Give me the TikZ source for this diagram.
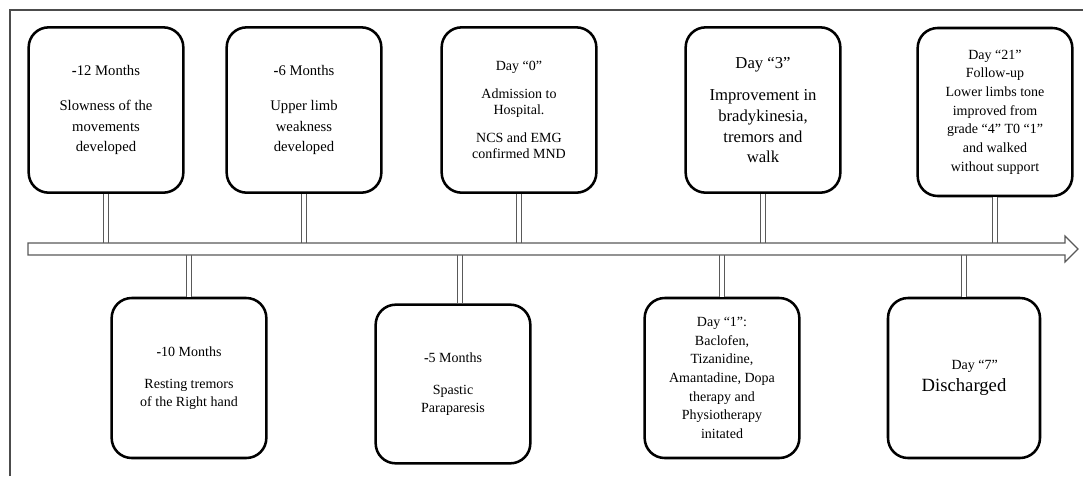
\documentclass[tikz,border=0pt]{standalone}
\usepackage{fontspec}
\setmainfont{Liberation Serif}
\usetikzlibrary{calc}

\begin{document}
\begin{tikzpicture}[x=0.75pt, y=-0.75pt,
	            event/.style={
	            draw,
	            line width=1.9pt,
	            rounded corners=15pt,
	            align=center,
	            inner sep=0pt,
	            minimum width=116pt,
	            minimum height=124pt,
	            font=\fontsize{11}{15.4}\selectfont
	            },
	            small/.style={font=\fontsize{10.5}{13.5}\selectfont},
	            stem/.style={
	            draw=black!65,
	            line width=0.9pt,
	            double=white,
	            double distance=3.4pt
	            },
	            axis/.style={
	            draw=black!65,
	            line width=0.9pt,
	            fill=white
	            }]

	        \useasboundingbox (0,0) rectangle (1083,476);
	        \draw[black!70, line width=0.9pt] (10,476) -- (10,10) -- (1083,10);

	        \coordinate (up) at (0,243);
	        \coordinate (dn) at (0,255);

	        \node[event] (m12) at (106,110) {\textbf{-}12 Months\\[11pt]Slowness of the\\movements\\developed};
	        \node[event] (m6) at (304,110) {\textbf{-}6 Months\\[11pt]Upper limb\\weakness\\developed};
	        \node[event, font=\fontsize{10.5}{12}\selectfont] (d0) at (519,110) {Day “0”\\[9pt]Admission to\\Hospital.\\[9pt]NCS and EMG\\confirmed MND};
	        \node[event, font=\fontsize{12.5}{15.5}\selectfont] (d3) at (763,110) {Day “3”\\[9pt]Improvement in\\bradykinesia,\\tremors and\\walk};
	        \node[event, minimum height=126pt, font=\fontsize{10.5}{14}\selectfont] (d21) at (995,112) {Day “21”\\Follow-up\\Lower limbs tone\\improved from\\grade “4” T0 “1”\\and walked\\without support};

	        \node[event, small, minimum height=120pt] (m10) at (189,378) {\textbf{-}10 Months\\[11pt]Resting tremors\\of the Right hand};
	        \node[event, small, minimum height=119pt] (m5) at (453,384) {\textbf{-}5 Months\\[11pt]Spastic\\Paraparesis};
	        \node[event, minimum height=120pt, font=\fontsize{10.5}{14}\selectfont] (d1) at (722,378) {Day “1”:\\Baclofen,\\Tizanidine,\\Amantadine, Dopa\\therapy and\\Physiotherapy\\initated};
	        \node[event, minimum width=114pt, minimum height=120pt] (d7) at (964,378) {\hspace*{16pt}{\fontsize{10.5}{13}\selectfont Day “7”}\\[1pt]{\fontsize{14}{16}\selectfont Discharged}};

	        \draw[stem] (m12.south) -- (m12.south |- up);
	        \draw[stem] (m6.south) -- (m6.south |- up);
	        \draw[stem] (d0.south) -- (d0.south |- up);
	        \draw[stem] (d3.south) -- (d3.south |- up);
	        \draw[stem] (d21.south) -- (d21.south |- up);

	        \draw[stem] (m10.north) -- (m10.north |- dn);
	        \draw[stem] ($(m5.north)+(7,0)$) -- ($(m5.north |- dn)+(7,0)$);
	        \draw[stem] (d1.north) -- (d1.north |- dn);
	        \draw[stem] (d7.north) -- (d7.north |- dn);

	        \draw[axis] (28,243) -- (1065,243) -- (1065,236) -- (1078,249) -- (1065,262) -- (1065,255) -- (28,255) -- cycle;

	    \end{tikzpicture}
\end{document}
